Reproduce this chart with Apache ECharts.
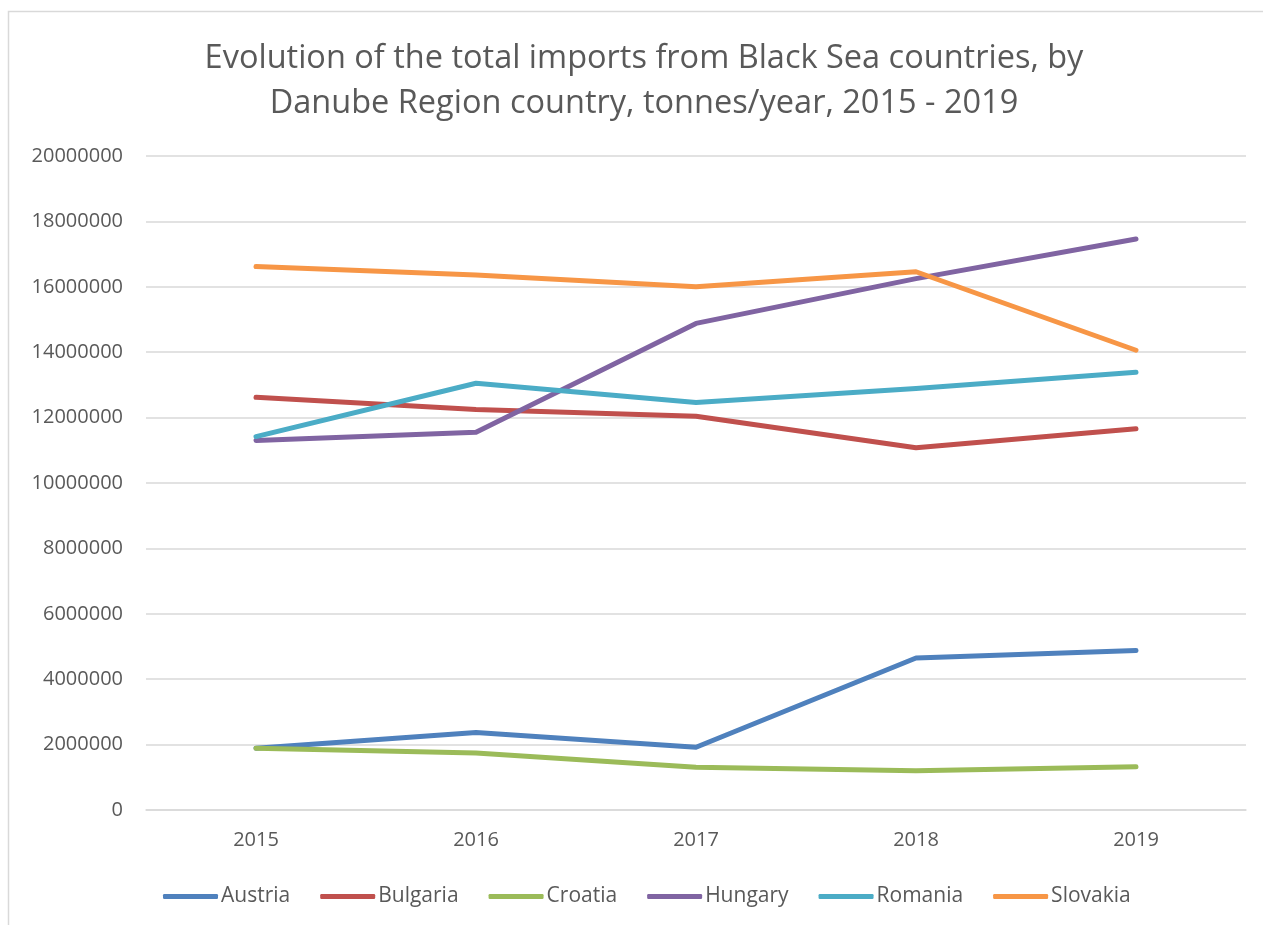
<!DOCTYPE html>
<html>
<head>
<meta charset="utf-8">
<style>
  html, body { margin: 0; padding: 0; background: #ffffff; }
  #chart { width: 1263px; height: 925px; }
</style>
<script src="https://cdn.jsdelivr.net/npm/echarts@6/dist/echarts.min.js"></script>
</head>
<body>
<div id="chart"></div>
<script>
const categories = ['2015', '2016', '2017', '2018', '2019'];
const austria  = [1890000, 2370000, 1920000, 4650000, 4880000];
const bulgaria = [12620000, 12250000, 12040000, 11080000, 11660000];
const croatia  = [1890000, 1740000, 1310000, 1200000, 1320000];
const hungary  = [11300000, 11550000, 14880000, 16250000, 17460000];
const romania  = [11420000, 13050000, 12460000, 12890000, 13390000];
const slovakia = [16620000, 16360000, 16000000, 16460000, 14060000];
const seriesNames = ['Austria', 'Bulgaria', 'Croatia', 'Hungary', 'Romania', 'Slovakia'];
const seriesColors = ['#4f81bd', '#c0504d', '#9bbb59', '#8064a2', '#4bacc6', '#f79646'];
const seriesData = [austria, bulgaria, croatia, hungary, romania, slovakia];
const titleText = 'Evolution of the total imports from Black Sea countries, by\nDanube Region country, tonnes/year, 2015 - 2019';

const FONT = '"Open Sans", sans-serif';
const chart = echarts.init(document.getElementById('chart'), null, { renderer: 'canvas' });

chart.setOption({
  backgroundColor: '#ffffff',
  animation: false,
  graphic: [{
    type: 'rect',
    shape: { x: 8.5, y: 11.5, width: 1300, height: 1000 },
    style: { fill: 'none', stroke: '#d9d9d9', lineWidth: 1.5 },
    silent: true
  }],
  title: {
    text: titleText,
    left: 639,
    textAlign: 'center',
    top: 31,
    textStyle: {
      fontFamily: FONT,
      fontSize: 32.5,
      fontWeight: 'normal',
      color: '#595959',
      lineHeight: 45
    }
  },
  legend: {
    data: seriesNames,
    top: 881,
    left: 158,
    itemWidth: 55,
    itemHeight: 5,
    itemGap: 30,
    icon: 'roundRect',
    textStyle: { fontFamily: FONT, fontSize: 21, color: '#595959', padding: [0, 0, 0, -2] }
  },
  grid: { left: 146, right: 17, top: 156, bottom: 115, containLabel: false },
  xAxis: {
    type: 'category',
    data: categories,
    boundaryGap: true,
    axisLine: { show: true, lineStyle: { color: '#d9d9d9', width: 1.5 } },
    axisTick: { show: false },
    axisLabel: { fontFamily: FONT, fontSize: 20, color: '#595959', margin: 20 },
    splitLine: { show: false }
  },
  yAxis: {
    type: 'value',
    min: 0,
    max: 20000000,
    interval: 2000000,
    axisLine: { show: false },
    axisTick: { show: false },
    axisLabel: {
      fontFamily: FONT, fontSize: 20, color: '#595959', margin: 23,
      formatter: function (v) { return String(v); }
    },
    splitLine: { show: true, lineStyle: { color: '#d9d9d9', width: 1.5 } }
  },
  series: seriesNames.map((name, i) => ({
    name: name,
    type: 'line',
    data: seriesData[i],
    symbol: 'none',
    showSymbol: false,
    lineStyle: { color: seriesColors[i], width: 5, cap: 'round', join: 'round' },
    itemStyle: { color: seriesColors[i] },
    z: 2
  }))
});
</script>
</body>
</html>
